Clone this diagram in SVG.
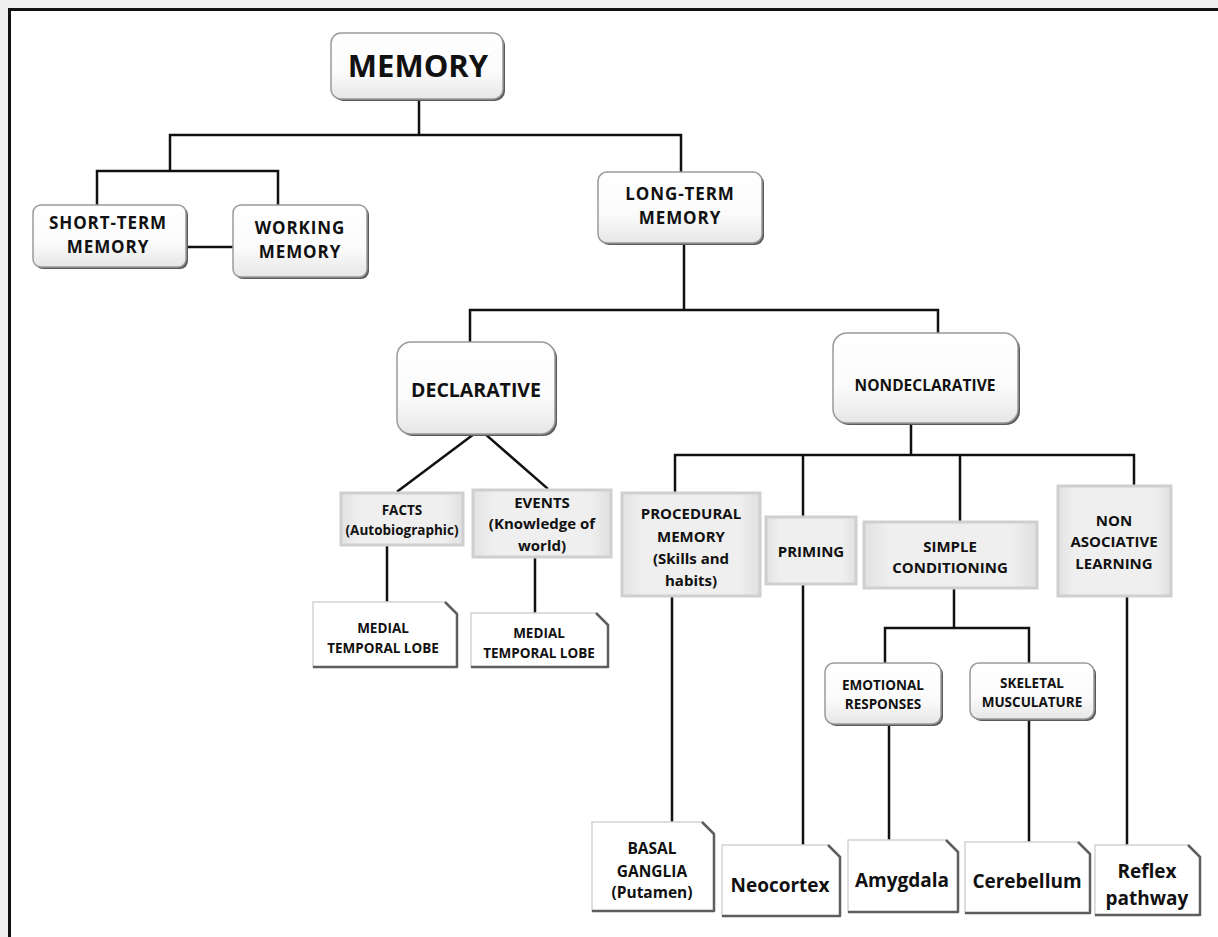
<svg xmlns="http://www.w3.org/2000/svg" width="1218" height="937" viewBox="0 0 1218 937">
<defs>
<linearGradient id="gRound" x1="0" y1="0" x2="0" y2="1">
<stop offset="0" stop-color="#ffffff"/><stop offset="0.6" stop-color="#fbfbfb"/><stop offset="1" stop-color="#e6e6e6"/>
</linearGradient>
<linearGradient id="gGray" x1="0" y1="0" x2="1" y2="0">
<stop offset="0" stop-color="#e2e2e2"/><stop offset="0.15" stop-color="#efefef"/><stop offset="0.85" stop-color="#efefef"/><stop offset="1" stop-color="#e0e0e0"/>
</linearGradient>
<style>
.t{font-family:"Open Sans","Liberation Sans",sans-serif;font-weight:bold;fill:#111;text-anchor:middle}
.w{font-size:17px;letter-spacing:0.9px}
.rs{fill:#5a5a5a}
.rb{fill:url(#gRound);stroke:#9a9a9a;stroke-width:1.5}
.gb{fill:url(#gGray);stroke:#cfcfcf;stroke-width:3}
.fb{fill:#ffffff;stroke:#d4d4d4;stroke-width:1.5}
.fe{fill:none;stroke:#5e5e5e;stroke-width:2.5;stroke-linejoin:round}
.c{stroke:#111;stroke-width:2.5;fill:none;stroke-linecap:square}
</style>
</defs>
<rect x="0" y="0" width="1218" height="937" fill="#eeeeee"/>
<rect x="9.5" y="9.5" width="1230" height="950" fill="#ffffff" stroke="#111" stroke-width="3"/>

<g id="connectors">
<path class="c" d="M419 99V135M170 135H681M170 135V171M97 171H278M97 171V205M278 171V205M681 135V172"/>
<path class="c" d="M187 247H233"/>
<path class="c" d="M684 243V310M470 310H938M470 310V342M938 310V333"/>
<path class="c" d="M474 434L398 491M485 434L547 488"/>
<path class="c" d="M387 545V602M535 557V613"/>
<path class="c" d="M911 423V455M675 455H1134M675 455V493M803 455V517M960 455V522M1134 455V486"/>
<path class="c" d="M672 596V822M803 584V845M954 588V628M885 628H1029M885 628V663M1029 628V663M889 724V840M1029 719V842M1127 596V845"/>
</g>

<g id="n-memory">
<rect class="rs" x="333" y="35" width="172" height="66" rx="10"/>
<rect class="rb" x="331" y="33" width="172" height="66" rx="10"/>
<text class="t" x="418" y="77" font-size="31">MEMORY</text>
</g>
<g id="n-short-term">
<rect class="rs" x="35" y="207" width="153" height="62" rx="8"/>
<rect class="rb" x="33" y="205" width="153" height="62" rx="8"/>
<text class="t w" x="108" y="229">SHORT-TERM</text>
<text class="t w" x="108" y="253">MEMORY</text>
</g>
<g id="n-working">
<rect class="rs" x="235" y="207" width="134" height="72" rx="8"/>
<rect class="rb" x="233" y="205" width="134" height="72" rx="8"/>
<text class="t w" x="300" y="234">WORKING</text>
<text class="t w" x="300" y="258">MEMORY</text>
</g>
<g id="n-long-term">
<rect class="rs" x="600" y="174" width="164" height="71" rx="9"/>
<rect class="rb" x="598" y="172" width="164" height="71" rx="9"/>
<text class="t w" x="680" y="200">LONG-TERM</text>
<text class="t w" x="680" y="224">MEMORY</text>
</g>
<g id="n-declarative">
<rect class="rs" x="399" y="344" width="158" height="92" rx="14"/>
<rect class="rb" x="397" y="342" width="158" height="92" rx="14"/>
<text class="t" x="476" y="397" font-size="19.5">DECLARATIVE</text>
</g>
<g id="n-nondeclarative">
<rect class="rs" x="835" y="335" width="185" height="90" rx="14"/>
<rect class="rb" x="833" y="333" width="185" height="90" rx="14"/>
<text class="t" x="925" y="391" font-size="15.5">NONDECLARATIVE</text>
</g>

<g id="n-facts">
<rect class="gb" x="341" y="493" width="122" height="52"/>
<text class="t" x="402" y="515" font-size="13.5">FACTS</text>
<text class="t" x="402" y="535" font-size="13.5">(Autobiographic)</text>
</g>
<g id="n-events">
<rect class="gb" x="473" y="490" width="138" height="67"/>
<text class="t" x="542" y="508" font-size="15">EVENTS</text>
<text class="t" x="542" y="529" font-size="15">(Knowledge of</text>
<text class="t" x="542" y="551" font-size="15">world)</text>
</g>
<g id="n-mtl1">
<path class="fb" d="M313 602H445L457 614V667H313Z"/>
<path class="fe" d="M445 602L457 614V667H313"/>
<text class="t" x="383" y="633" font-size="13.5">MEDIAL</text>
<text class="t" x="383" y="653" font-size="13.5">TEMPORAL LOBE</text>
</g>
<g id="n-mtl2">
<path class="fb" d="M471 613H596L608 625V667H471Z"/>
<path class="fe" d="M596 613L608 625V667H471"/>
<text class="t" x="539" y="638" font-size="13.5">MEDIAL</text>
<text class="t" x="539" y="658" font-size="13.5">TEMPORAL LOBE</text>
</g>

<g id="n-procedural">
<rect class="gb" x="622" y="493" width="138" height="103"/>
<text class="t" x="691" y="519" font-size="15">PROCEDURAL</text>
<text class="t" x="691" y="542" font-size="15">MEMORY</text>
<text class="t" x="691" y="564" font-size="15">(Skills and</text>
<text class="t" x="691" y="586" font-size="15">habits)</text>
</g>
<g id="n-priming">
<rect class="gb" x="766" y="517" width="90" height="67"/>
<text class="t" x="811" y="557" font-size="15">PRIMING</text>
</g>
<g id="n-simple">
<rect class="gb" x="864" y="522" width="173" height="66"/>
<text class="t" x="950" y="552" font-size="15">SIMPLE</text>
<text class="t" x="950" y="573" font-size="15">CONDITIONING</text>
</g>
<g id="n-nonassoc">
<rect class="gb" x="1058" y="486" width="113" height="110"/>
<text class="t" x="1114" y="526" font-size="15">NON</text>
<text class="t" x="1114" y="547" font-size="15">ASOCIATIVE</text>
<text class="t" x="1114" y="569" font-size="15">LEARNING</text>
</g>

<g id="n-emotional">
<rect class="rs" x="827" y="665" width="116" height="61" rx="9"/>
<rect class="rb" x="825" y="663" width="116" height="61" rx="9"/>
<text class="t" x="883" y="690" font-size="13.5">EMOTIONAL</text>
<text class="t" x="883" y="709" font-size="13.5">RESPONSES</text>
</g>
<g id="n-skeletal">
<rect class="rs" x="972" y="665" width="124" height="56" rx="9"/>
<rect class="rb" x="970" y="663" width="124" height="56" rx="9"/>
<text class="t" x="1032" y="688" font-size="13.5">SKELETAL</text>
<text class="t" x="1032" y="707" font-size="13.5">MUSCULATURE</text>
</g>

<g id="n-basal">
<path class="fb" d="M592 822H702L714 834V911H592Z"/>
<path class="fe" d="M702 822L714 834V911H592"/>
<text class="t" x="652" y="854" font-size="15.5">BASAL</text>
<text class="t" x="652" y="877" font-size="15.5">GANGLIA</text>
<text class="t" x="652" y="898" font-size="15.5">(Putamen)</text>
</g>
<g id="n-neocortex">
<path class="fb" d="M722 845H828L840 857V916H722Z"/>
<path class="fe" d="M828 845L840 857V916H722"/>
<text class="t" x="780" y="892" font-size="19">Neocortex</text>
</g>
<g id="n-amygdala">
<path class="fb" d="M848 840H946L958 852V912H848Z"/>
<path class="fe" d="M946 840L958 852V912H848"/>
<text class="t" x="902" y="887" font-size="19">Amygdala</text>
</g>
<g id="n-cerebellum">
<path class="fb" d="M965 842H1078L1090 854V913H965Z"/>
<path class="fe" d="M1078 842L1090 854V913H965"/>
<text class="t" x="1027" y="888" font-size="19">Cerebellum</text>
</g>
<g id="n-reflex">
<path class="fb" d="M1095 845H1188L1200 857V915H1095Z"/>
<path class="fe" d="M1188 845L1200 857V915H1095"/>
<text class="t" x="1147" y="878" font-size="19">Reflex</text>
<text class="t" x="1147" y="905" font-size="19">pathway</text>
</g>
</svg>
